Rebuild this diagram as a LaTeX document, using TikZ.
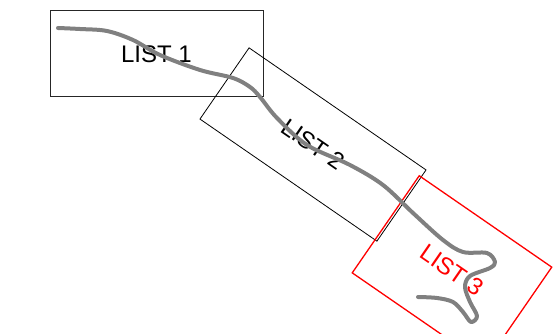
\documentclass[tikz,border=0pt]{standalone}
\usepackage{fontspec}
\setmainfont{Liberation Sans}
\begin{document}
\begin{tikzpicture}[x=1pt,y=-1pt,
  listbox/.style={draw, line width=0.8pt, inner sep=0pt, font=\fontsize{24}{24}\selectfont},
  trail/.style={draw=gray, line width=4pt, line cap=round, line join=round}]
\useasboundingbox (0,0) rectangle (555,334);
% the three lists
\node[listbox, draw=black!85, line width=1pt, minimum width=213pt, minimum height=86pt] (l1) at (156.5,54) {LIST 1};
\node[listbox, minimum width=215pt, minimum height=86.5pt, rotate=-34.6] (l2) at (313,144.5) {LIST 2};
\node[listbox, draw=red, text=red, line width=1.3pt, minimum width=161pt, minimum height=118pt, rotate=-34.6] (l3) at (452,270) {LIST 3};
% winding path through the lists
\draw[trail] plot[smooth, tension=0.55] coordinates {
  (58,28) (80,29) (107,31) (133,40) (160,55) (200,70) (233,78) (250,87)
  (260,97) (277,118) (307,145) (350,165) (383,185) (413,213) (443,240)
  (463,252) (487,253) (495,262) (490,268) (470,276) (465,287) (470,302)
  (477,316) (471,322) (463,312) (453,302) (437,298) (418,297)};
\end{tikzpicture}
\end{document}
